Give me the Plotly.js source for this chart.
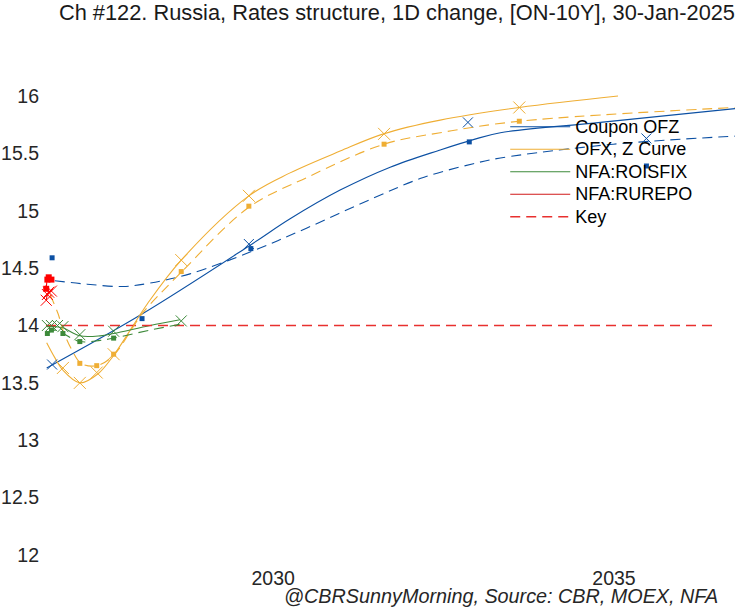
<!DOCTYPE html>
<html>
<head>
<meta charset="utf-8">
<script src="https://cdn.plot.ly/plotly-3.0.1.min.js"></script>
<style>
  body { margin: 0; background: #fff; }
  #graph { width: 735px; height: 607px; }
</style>
</head>
<body>
<div id="graph"></div>
<script>
// tenor in years from 30-Jan-2025
var ofzCurveT = [0.01, 1.42, 3.02, 3.61, 4.35, 5.09, 5.83, 6.32, 6.72, 8.2, 10.19];
var ofzCurveNow = [13.63, 14.1, 14.7, 14.93, 15.18, 15.38, 15.53, 15.62, 15.68, 15.77, 15.89];
var ofzCurvePrevT = [0.13, 0.61, 1.14, 1.54, 2.13, 3.06, 3.86, 4.84, 5.58, 6.32, 6.72, 8.39, 10.19];
var ofzCurvePrev = [14.39, 14.36, 14.34, 14.37, 14.45, 14.65, 14.85, 15.11, 15.29, 15.41, 15.46, 15.58, 15.65];
var ofzBondNowT = [0.09, 3.0, 6.24, 8.88];
var ofzBondNow = [13.66, 14.71, 15.77, 15.63];
var ofzBondPrevT = [0.09, 1.42, 3.03, 6.26, 8.88];
var ofzBondPrev = [14.59, 14.06, 14.67, 15.6, 15.39];

var zcycCurveT = [0.01, 0.13, 0.25, 0.5, 0.77, 1.0, 1.5, 2.0, 3.0, 3.61, 4.35, 4.99, 5.83, 7.0, 8.46];
var zcycCurveNow = [13.85, 13.72, 13.61, 13.5, 13.58, 13.74, 14.19, 14.57, 15.13, 15.33, 15.52, 15.67, 15.79, 15.9, 16.0];
var zcycCurvePrevT = [0.06, 0.18, 0.25, 0.38, 0.52, 0.75, 1.0, 1.29, 1.43, 2.01, 3.0, 3.86, 5.0, 5.83, 7.0, 10.19];
var zcycCurvePrev = [14.27, 14.1, 13.96, 13.79, 13.67, 13.65, 13.74, 13.99, 14.11, 14.47, 15.03, 15.29, 15.58, 15.68, 15.78, 15.9];
var zcycPointT = [0.25, 0.5, 0.75, 1, 2, 3, 5, 7];
var zcycPointNow = [13.63, 13.5, 13.59, 13.75, 14.57, 15.13, 15.67, 15.9];
var zcycPointPrevT = [0.5, 0.75, 1, 2, 3, 5, 7];
var zcycPointPrev = [13.67, 13.65, 13.75, 14.47, 15.04, 15.58, 15.78];

var roisT = [0.02, 0.08, 0.17, 0.25, 0.5, 1, 2];
var roisNow = [14.0, 14.0, 14.0, 13.99, 13.92, 13.95, 14.04];
var roisCurveT = [0.01, 0.13, 0.25, 0.5, 0.8, 1.0, 1.54, 1.98];
var roisCurveNow = [13.99, 13.99, 13.98, 13.91, 13.91, 13.93, 14.0, 14.05];
var roisCurvePrev = [13.93, 13.96, 13.93, 13.86, 13.87, 13.89, 13.96, 14.01];
var roisPrevT = [0.02, 0.08, 0.25, 0.5, 1];
var roisPrev = [13.93, 13.96, 13.93, 13.86, 13.89];

var repoT = [0.003, 0.02, 0.04, 0.08];
var repoNow = [14.22, 14.27, 14.29, 14.3];
var repoPrev = [14.32, 14.4, 14.42, 14.4];

var keyT = [0, 9.9];
var keyRate = [14.0, 14.0];

var xTickPos = [3.36, 8.4];
var xTickText = ['2030', '2035'];
var yTicks = [12, 12.5, 13, 13.5, 14, 14.5, 15, 15.5, 16];

var blue = '#0c50a3';
var gold = '#efae34';
var green = '#3d8a3a';
var red = '#d11a1a';
var keyRed = '#e8302f';

// legend text drawn bigger than the legend font so rows stay tight
function lg(s) { return '<span style="font-size:18px">' + s + '</span>'; }

function curve(x, y, color, dash, name, legend, width) {
  return {
    x: x, y: y, type: 'scatter', mode: 'lines', name: name,
    showlegend: legend, hoverinfo: 'skip',
    line: {color: color, width: width || 1.1, dash: dash, shape: 'spline', smoothing: 1}
  };
}
function pts(x, y, color, symbol, size) {
  var isX = symbol === 'x-thin';
  return {
    x: x, y: y, type: 'scatter', mode: 'markers', showlegend: false,
    cliponaxis: false,
    marker: {symbol: symbol, size: size, color: color,
             line: {color: color, width: isX ? 1 : 0}}
  };
}

var dashed = '10px,6px';
var data = [
  curve(ofzCurveT, ofzCurveNow, blue, 'solid', lg('Coupon OFZ'), true),
  curve(zcycCurveT, zcycCurveNow, gold, 'solid', lg('OFX, Z Curve'), true),
  curve(roisCurveT, roisCurveNow, green, 'solid', lg('NFA:ROISFIX'), true),
  curve(repoT, repoNow, red, 'solid', lg('NFA:RUREPO'), true),
  curve(keyT, keyRate, keyRed, dashed, lg('Key'), true, 1.5),
  curve(ofzCurvePrevT, ofzCurvePrev, blue, dashed, 'Coupon OFZ -1D', false),
  curve(zcycCurvePrevT, zcycCurvePrev, gold, dashed, 'OFX, Z Curve -1D', false),
  curve(roisCurveT, roisCurvePrev, green, dashed, 'NFA:ROISFIX -1D', false),
  curve(repoT, repoPrev, '#ff0000', dashed, 'NFA:RUREPO -1D', false),
  pts(ofzBondNowT, ofzBondNow, blue, 'x-thin', 10),
  pts(ofzBondPrevT, ofzBondPrev, blue, 'square', 5),
  pts(zcycPointT, zcycPointNow, gold, 'x-thin', 12),
  pts(zcycPointPrevT, zcycPointPrev, gold, 'square', 5),
  pts(roisT, roisNow, green, 'x-thin', 11),
  pts(roisPrevT, roisPrev, green, 'square', 5),
  pts(repoT, repoNow, '#ff0000', 'x-thin', 11),
  pts(repoT, repoPrev, '#ff0000', 'square', 6)
];

var font = 'Liberation Sans, Arial, sans-serif';
var layout = {
  width: 735,
  height: 607,
  margin: {l: 45, r: 0, t: 40, b: 43},
  paper_bgcolor: '#fff',
  plot_bgcolor: '#fff',
  font: {family: font, size: 19.5, color: '#262626'},
  title: {
    text: 'Ch #122. Russia, Rates structure, 1D change, [ON-10Y], 30-Jan-2025',
    font: {family: font, size: 21.8, color: '#1a1a1a'},
    x: 1, xanchor: 'right', xref: 'paper',
    y: 0.979, yanchor: 'middle', yref: 'container'
  },
  xaxis: {
    range: [-0.015, 10.19],
    tickvals: xTickPos, ticktext: xTickText,
    showgrid: false, zeroline: false, showline: false, ticks: '',
    tickfont: {size: 19.5}
  },
  yaxis: {
    range: [11.9216, 16.488],
    tickvals: yTicks,
    showgrid: false, zeroline: false, showline: false, ticks: '',
    ticklabelstandoff: 5,
    tickfont: {size: 19.5}
  },
  legend: {
    x: 0.667, xanchor: 'left', y: 0.8655, yanchor: 'top',
    bgcolor: 'rgba(0,0,0,0)',
    font: {size: 15, color: '#000'},
    itemwidth: 60,
    tracegroupgap: 0
  },
  annotations: [{
    text: '<i>@CBRSunnyMorning, Source: CBR, MOEX, NFA</i>',
    xref: 'paper', yref: 'paper',
    x: 0.978, xanchor: 'right',
    y: -32 / 524, yanchor: 'middle',
    showarrow: false,
    font: {family: font, size: 19.8, color: '#262626'}
  }]
};

Plotly.newPlot('graph', data, layout, {displayModeBar: false, staticPlot: true});
</script>
</body>
</html>
